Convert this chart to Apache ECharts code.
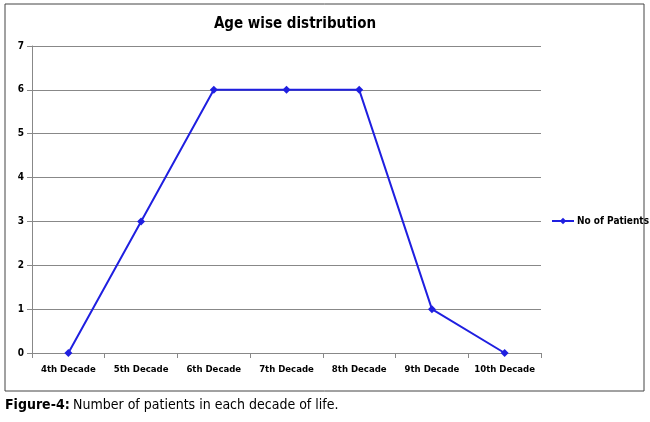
<!DOCTYPE html>
<html><head><meta charset="utf-8">
<script src="https://cdn.jsdelivr.net/npm/echarts@6/dist/echarts.min.js"></script>
<style>html,body{margin:0;padding:0;background:#fff}#c{width:650px;height:422px}</style>
</head><body><div id="c"></div>
<script>
const categories = ['4th Decade','5th Decade','6th Decade','7th Decade','8th Decade','9th Decade','10th Decade'];
const patients = [0,3,6,6,6,1,0];
const yTicks = [0,1,2,3,4,5,6,7];
const F = '"DejaVu Sans Condensed","Liberation Sans Narrow",sans-serif';
const chart = echarts.init(document.getElementById('c'));
chart.setOption({
  animation:false,
  title:{text:'Age wise distribution',left:290,top:12,textAlign:'center',textStyle:{fontFamily:F,fontSize:15,fontWeight:'bold',color:'#000'}},
  legend:{data:['No of Patients'],left:546,top:211,itemWidth:22,itemHeight:8,itemGap:4,textStyle:{fontFamily:F,fontSize:10,fontWeight:'bold',color:'#000',padding:[0,0,0,-2]}},
  grid:{left:32,right:109,top:46,bottom:69},
  xAxis:{type:'category',data:categories,boundaryGap:true,
    axisLine:{lineStyle:{color:'#888'}},axisTick:{show:true,interval:0,lineStyle:{color:'#888'}},
    axisLabel:{interval:0,fontFamily:F,fontSize:9.5,fontWeight:'bold',color:'#000',margin:12}},
  yAxis:{type:'value',min:0,max:7,interval:1,
    axisLine:{show:true,lineStyle:{color:'#888'}},axisTick:{show:true,lineStyle:{color:'#888'}},
    splitLine:{lineStyle:{color:'#888',width:1}},
    axisLabel:{fontFamily:F,fontSize:10,fontWeight:'bold',color:'#000',formatter:v=>yTicks.includes(v)?String(v):''}},
  series:[{name:'No of Patients',type:'line',data:patients,symbol:'diamond',symbolSize:8,
    lineStyle:{color:'#1f1fe0',width:2},itemStyle:{color:'#1f1fe0'}}],
  graphic:[
    {type:'rect',shape:{x:5,y:4,width:639,height:387},style:{fill:'none',stroke:'#444',lineWidth:1}},
    {type:'text',left:5,top:398,style:{rich:{b:{fontFamily:F,fontWeight:'bold',fontSize:14,fill:'#000'},n:{fontFamily:F,fontSize:14,fill:'#000'}},text:'{b|Figure-4:} {n|Number of patients in each decade of life.}'}}
  ]
});
</script></body></html>
